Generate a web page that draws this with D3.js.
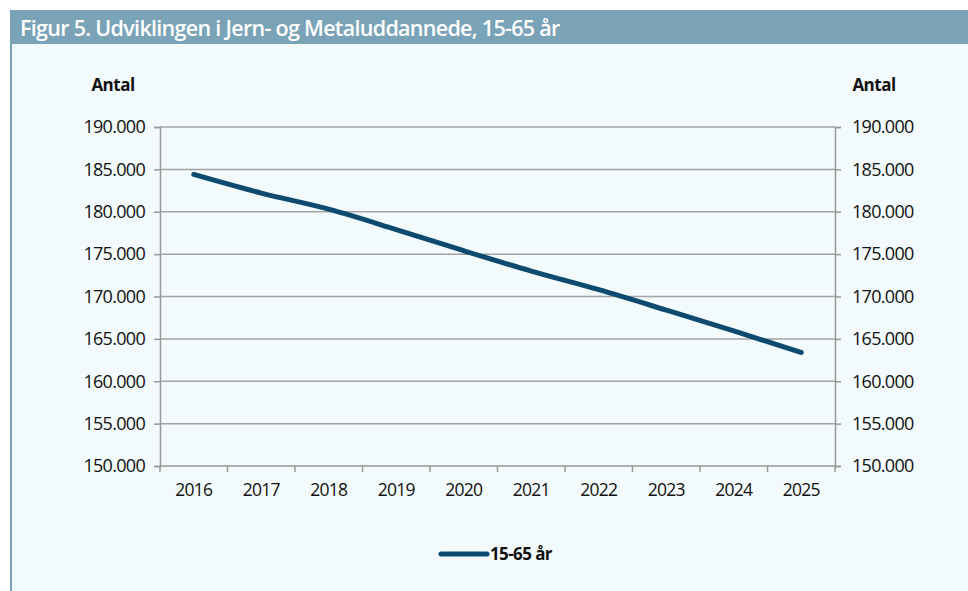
<!DOCTYPE html>
<html><head><meta charset="utf-8">
<script src="https://cdn.jsdelivr.net/npm/d3@7"></script>
<style>
html,body{margin:0;padding:0;background:#fff;}
svg{display:block;}
text{font-family:"Open Sans","Noto Sans",sans-serif;}
</style></head>
<body>
<script>
const years = ["2016","2017","2018","2019","2020","2021","2022","2023","2024","2025"];
const values = [184400,182200,180300,177900,175400,173000,170800,168400,165950,163400];
const yTicks = [150000,155000,160000,165000,170000,175000,180000,185000,190000];
const seriesName = "15-65 år";
const title = "Figur 5. Udviklingen i Jern- og Metaluddannede, 15-65 år";
const yLabel = "Antal";

const W=968,H=591;
const svg=d3.select("body").append("svg").attr("width",W).attr("height",H);
// panel
svg.append("rect").attr("x",10).attr("y",10).attr("width",W-10).attr("height",H-10).attr("fill","#f3fafb");
svg.append("rect").attr("x",10).attr("y",10).attr("width",W-10).attr("height",34).attr("fill","#7ba3b8");
svg.append("rect").attr("x",10).attr("y",44).attr("width",2).attr("height",H-44).attr("fill","#7ba3b8");
svg.append("text").attr("x",20).attr("y",36).attr("fill","#fff").attr("font-size",21.5).attr("font-weight",600)
  .attr("letter-spacing",-0.7).text(title);

const L=160,R=835,T=127,B=466;
const x=d3.scaleBand().domain(years).range([L,R]);
const y=d3.scaleLinear().domain([150000,190000]).range([B,T]);
const fmt=d=>d3.format(",")(d).replace(/,/g,".");

// grid
svg.append("g").selectAll("line").data(yTicks.filter(d=>d>150000)).join("line")
  .attr("x1",L).attr("x2",R).attr("y1",d=>y(d)).attr("y2",d=>y(d))
  .attr("stroke","#a3a3a3").attr("stroke-width",1.5);

const axL=svg.append("g").attr("transform",`translate(${L},0)`)
  .call(d3.axisLeft(y).tickValues(yTicks).tickFormat(fmt).tickSize(6).tickPadding(9));
const axR=svg.append("g").attr("transform",`translate(${R},0)`)
  .call(d3.axisRight(y).tickValues(yTicks).tickFormat(fmt).tickSize(6).tickPadding(11));
const axB=svg.append("g").attr("transform",`translate(0,${B})`)
  .call(d3.axisBottom(x).tickSize(0).tickPadding(18));
// band boundary ticks
svg.append("g").selectAll("line").data(d3.range(years.length+1)).join("line")
  .attr("x1",i=>L+i*x.step()).attr("x2",i=>L+i*x.step()).attr("y1",B).attr("y2",B+6)
  .attr("stroke","#999").attr("stroke-width",1.5);
[axL,axR,axB].forEach(a=>{
  a.select(".domain").attr("stroke","#999").attr("stroke-width",1.5);
  a.selectAll(".tick line").attr("stroke","#999").attr("stroke-width",1.5);
  a.selectAll("text").attr("font-size",18).attr("fill","#111").attr("font-family","'Open Sans',sans-serif").attr("letter-spacing",-0.7);
});
axB.selectAll("text").attr("font-size",17.5);
axB.select(".domain").attr("d",`M${L},0H${R}`);

svg.append("text").attr("x",113).attr("y",91).attr("text-anchor","middle").attr("font-size",17).attr("font-weight",700).attr("fill","#111").attr("letter-spacing",-0.5).text(yLabel);
svg.append("text").attr("x",874).attr("y",91).attr("text-anchor","middle").attr("font-size",17).attr("font-weight",700).attr("fill","#111").attr("letter-spacing",-0.5).text(yLabel);

const line=d3.line().x((d,i)=>x(years[i])+x.bandwidth()/2).y(d=>y(d)).curve(d3.curveMonotoneX);
svg.append("path").datum(values).attr("d",line).attr("fill","none").attr("stroke","#0e4a6f")
  .attr("stroke-width",5).attr("stroke-linecap","round").attr("stroke-linejoin","round");

// legend
svg.append("line").attr("x1",441).attr("x2",487).attr("y1",554).attr("y2",554).attr("stroke","#0e4a6f").attr("stroke-width",5).attr("stroke-linecap","round");
svg.append("text").attr("x",490).attr("y",560).attr("font-size",17).attr("font-weight",700).attr("fill","#111").attr("letter-spacing",-0.6).text(seriesName);
</script>
</body></html>
